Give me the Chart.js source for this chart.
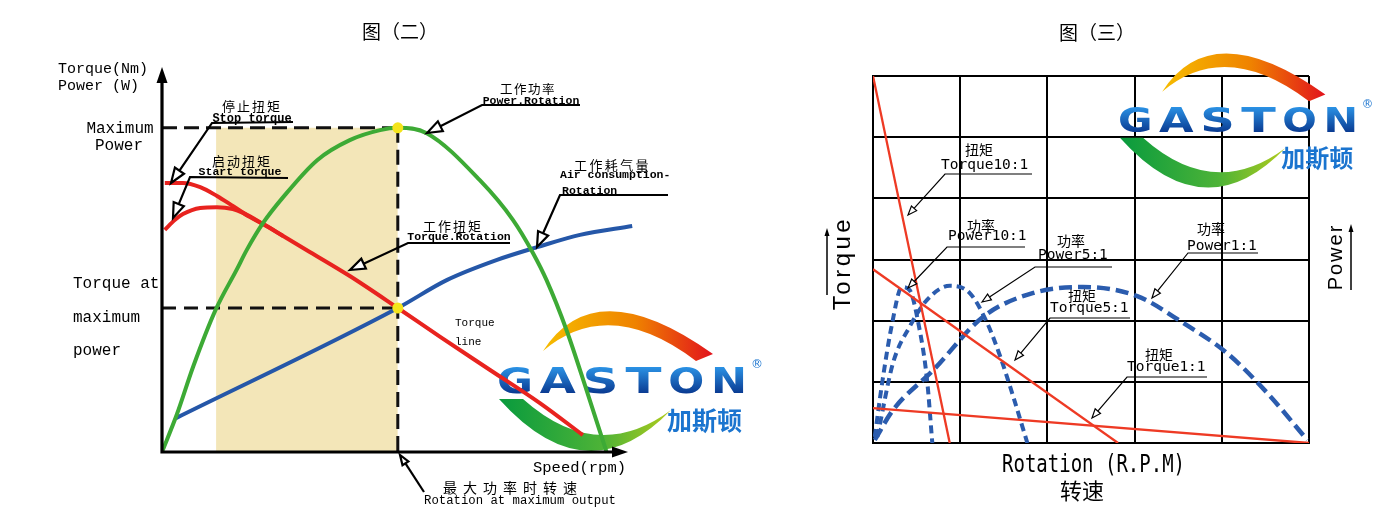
<!DOCTYPE html>
<html>
<head>
<meta charset="utf-8">
<title>图(二) 图(三)</title>
<script src="https://cdn.jsdelivr.net/npm/chart.js@4.4.1/dist/chart.umd.min.js"></script>
<style>
  html, body { margin: 0; padding: 0; background: #fff; }
  body { width: 1394px; height: 524px; position: relative; overflow: hidden; }
  #left { position: absolute; left: 0; top: 0; }
  #right { position: absolute; left: 820px; top: 0; }
</style>
</head>
<body>
<canvas id="left" width="810" height="524"></canvas>
<canvas id="right" width="574" height="524"></canvas>
<script>
// 图(二): speed, torque and power in percent of the axis length
const speedMaxPower = 50.6;
const maxPower = 84.2;
const torqueAtMaxPower = 37.4;
const shadeStart = 11.6;

const powerSpeed = [0, 3.2, 6.7, 11.5, 16, 18.2, 21.7, 26, 33.3, 40.3, 46.8, 50.6, 56.8, 68.2, 75.3, 79.6, 82.5, 86.8, 91.1, 95.4];
const powerValue = [0, 9.8, 22.2, 36.9, 47.3, 52.5, 59.5, 66.2, 75.8, 81, 83.6, 84.2, 82.8, 70.6, 60.3, 51.7, 44.7, 31.7, 16.1, 0];

const stopSpeed = [0.6, 4.5, 8.2, 11.8, 15.2, 18.9, 21.7, 26, 31.8, 40.3, 50.6, 59.7, 70.4, 81.1, 90.3];
const stopTorque = [69.9, 69.9, 68.8, 66.5, 63.9, 61, 59.2, 56.1, 51.9, 45.7, 37.4, 29.9, 21.3, 12.7, 4.4];

const startSpeed = [0.6, 2.8, 4.5, 8.2, 11.8, 15.2, 17.4, 21.7, 26];
const startTorque = [57.7, 60.3, 61.8, 63.4, 63.6, 63.1, 62.1, 59.2, 56.1];

const airSpeed = [3, 50.6, 61.2, 71.9, 80.5, 89.7, 100.9];
const airValue = [8.8, 37.4, 44.7, 49.9, 53.2, 56.4, 58.7];

// 图(三): rotation over 5 grid columns, torque / power over 6 grid rows
const gridCols = 5;
const gridRows = 6;
const torque10Rpm = [0, 0.88];
const torque10Val = [6, 0];
const torque5Rpm = [0, 2.81];
const torque5Val = [2.84, 0];
const torque1Rpm = [0, 5];
const torque1Val = [0.57, 0];
const power10Rpm = [0.02, 0.11, 0.22, 0.33, 0.42, 0.52, 0.62, 0.68];
const power10Val = [0.1, 1.03, 1.96, 2.55, 2.5, 1.96, 1.03, 0];
const power5Rpm = [0.05, 0.23, 0.42, 0.62, 0.88, 1.11, 1.31, 1.46, 1.61, 1.77];
const power5Val = [0.1, 1.31, 1.9, 2.34, 2.57, 2.45, 1.96, 1.41, 0.75, 0];
const power1Rpm = [0.02, 0.23, 0.69, 1.26, 1.83, 2.41, 3.03, 3.56, 4.06, 4.52, 4.98];
const power1Val = [0.05, 0.54, 1.19, 2.06, 2.45, 2.55, 2.4, 1.96, 1.47, 0.82, 0.05];

function pts(xs, ys) {
  return xs.map((x, i) => ({ x: x, y: ys[i] }));
}

function line(xs, ys, color, width, extra) {
  return Object.assign({
    data: pts(xs, ys),
    showLine: true,
    borderColor: color,
    borderWidth: width,
    pointRadius: 0,
    cubicInterpolationMode: 'monotone',
    fill: false
  }, extra || {});
}

function txt(ctx, s, x, y, font, align, spacing) {
  ctx.font = font;
  ctx.textAlign = align || 'left';
  ctx.textBaseline = 'middle';
  ctx.fillStyle = '#000';
  ctx.letterSpacing = spacing || '0px';
  ctx.fillText(s, x, y);
  ctx.letterSpacing = '0px';
}

// polyline whose last segment ends in an open arrow head
function leader(ctx, p, len, half, lw) {
  const n = p.length;
  const a = Math.atan2(p[n - 1][1] - p[n - 2][1], p[n - 1][0] - p[n - 2][0]);
  const bx = p[n - 1][0] - len * Math.cos(a);
  const by = p[n - 1][1] - len * Math.sin(a);
  ctx.lineWidth = lw;
  ctx.strokeStyle = '#000';
  ctx.setLineDash([]);
  ctx.beginPath();
  ctx.moveTo(p[0][0], p[0][1]);
  for (let i = 1; i < n - 1; i++) ctx.lineTo(p[i][0], p[i][1]);
  ctx.lineTo(bx, by);
  ctx.stroke();
  ctx.beginPath();
  ctx.moveTo(p[n - 1][0], p[n - 1][1]);
  ctx.lineTo(bx + half * Math.sin(a), by - half * Math.cos(a));
  ctx.lineTo(bx - half * Math.sin(a), by + half * Math.cos(a));
  ctx.closePath();
  ctx.fillStyle = '#fff';
  ctx.fill();
  ctx.stroke();
}

function upArrow(ctx, x, y1, y2) {
  ctx.lineWidth = 1.5;
  ctx.strokeStyle = '#000';
  ctx.fillStyle = '#000';
  ctx.beginPath();
  ctx.moveTo(x, y1);
  ctx.lineTo(x, y2 + 6);
  ctx.stroke();
  ctx.beginPath();
  ctx.moveTo(x, y2);
  ctx.lineTo(x - 2.5, y2 + 8);
  ctx.lineTo(x + 2.5, y2 + 8);
  ctx.closePath();
  ctx.fill();
}

function drawLogo(ctx, ox, oy, s) {
  ctx.save();
  ctx.translate(ox, oy);
  ctx.scale(s, s);
  let g = ctx.createLinearGradient(45, 0, 215, 0);
  g.addColorStop(0, '#f6bd00');
  g.addColorStop(0.55, '#ef8200');
  g.addColorStop(1, '#e2141c');
  ctx.fillStyle = g;
  ctx.beginPath();
  ctx.moveTo(46, -16);
  ctx.quadraticCurveTo(98, -97, 216, -13);
  ctx.lineTo(199, -6);
  ctx.quadraticCurveTo(112, -72, 46, -16);
  ctx.closePath();
  ctx.fill();

  g = ctx.createLinearGradient(0, 0, 175, 0);
  g.addColorStop(0, '#079a3e');
  g.addColorStop(0.6, '#4db337');
  g.addColorStop(1, '#b2cc1c');
  ctx.fillStyle = g;
  ctx.beginPath();
  ctx.moveTo(2, 32);
  ctx.quadraticCurveTo(90, 130, 174, 43);
  ctx.quadraticCurveTo(100, 98, 26, 32);
  ctx.closePath();
  ctx.fill();

  ctx.font = 'bold 34px "DejaVu Sans"';
  ctx.textBaseline = 'alphabetic';
  ctx.textAlign = 'left';
  const word = 'GASTON';
  for (let i = 0; i < word.length; i++) {
    const w = ctx.measureText(word[i]).width;
    ctx.save();
    ctx.translate(i * 42.8, 26);
    ctx.scale(36 / w, 1.05);
    const gb = ctx.createLinearGradient(0, -25, 0, 0);
    gb.addColorStop(0, '#2b93e6');
    gb.addColorStop(1, '#0a3b92');
    ctx.fillStyle = gb;
    ctx.fillText(word[i], 0, 0);
    ctx.restore();
  }
  ctx.fillStyle = '#1a74cf';
  ctx.textBaseline = 'middle';
  ctx.font = 'bold 25px "Noto Sans CJK SC"';
  ctx.fillText('加斯顿', 170, 53);
  ctx.font = '12px "DejaVu Sans"';
  ctx.fillText('®', 254, -2);
  ctx.restore();
}

const MONO = '"Liberation Mono", monospace';
const CJK = '"Noto Sans CJK SC", sans-serif';

const leftDecor = {
  id: 'leftDecor',
  beforeDatasetsDraw(chart) {
    drawLogo(chart.ctx, 497, 367, 1);
  },
  afterDatasetsDraw(chart) {
    const ctx = chart.ctx;
    const xs = chart.scales.x;
    const ys = chart.scales.y;
    const x0 = xs.getPixelForValue(0);
    const y0 = ys.getPixelForValue(0);
    const xEnd = xs.getPixelForValue(100);
    const yTop = ys.getPixelForValue(100);
    ctx.save();
    // axes with arrows
    ctx.setLineDash([]);
    ctx.strokeStyle = '#000';
    ctx.fillStyle = '#000';
    ctx.lineWidth = 3.2;
    ctx.lineJoin = 'miter';
    ctx.beginPath();
    ctx.moveTo(x0, yTop + 14);
    ctx.lineTo(x0, y0);
    ctx.lineTo(xEnd - 14, y0);
    ctx.stroke();
    ctx.beginPath();
    ctx.moveTo(x0, yTop);
    ctx.lineTo(x0 - 5.5, yTop + 16);
    ctx.lineTo(x0 + 5.5, yTop + 16);
    ctx.closePath();
    ctx.fill();
    ctx.beginPath();
    ctx.moveTo(xEnd, y0);
    ctx.lineTo(xEnd - 16, y0 - 5.5);
    ctx.lineTo(xEnd - 16, y0 + 5.5);
    ctx.closePath();
    ctx.fill();

    txt(ctx, '图（二）', 400, 32, '19px ' + CJK, 'center');
    txt(ctx, 'Torque(Nm)', 58, 69, '15px ' + MONO);
    txt(ctx, 'Power (W)', 58, 86, '15px ' + MONO);
    txt(ctx, 'Maximum', 120, 129, '16px ' + MONO, 'center');
    txt(ctx, 'Power', 119, 146, '16px ' + MONO, 'center');
    txt(ctx, 'Torque at', 73, 284, '16px ' + MONO);
    txt(ctx, 'maximum', 73, 318, '16px ' + MONO);
    txt(ctx, 'power', 73, 351, '16px ' + MONO);

    txt(ctx, '停止扭矩', 222, 106, '13px ' + CJK, 'left', '2px');
    txt(ctx, 'Stop torque', 252, 118.5, 'bold 12px ' + MONO, 'center');
    txt(ctx, '启动扭矩', 212, 161, '13px ' + CJK, 'left', '2px');
    txt(ctx, 'Start torque', 240, 172, 'bold 11.5px ' + MONO, 'center');
    txt(ctx, '工作功率', 500, 89, '12.5px ' + CJK, 'left', '1.5px');
    txt(ctx, 'Power.Rotation', 531, 101, 'bold 11.5px ' + MONO, 'center');
    txt(ctx, '工作耗气量', 574, 165, '13px ' + CJK, 'left', '2.4px');
    txt(ctx, 'Air consumption-', 560, 175.5, 'bold 11.5px ' + MONO);
    txt(ctx, 'Rotation', 562, 191, 'bold 11.5px ' + MONO);
    txt(ctx, '工作扭矩', 423, 226.5, '13px ' + CJK, 'left', '2px');
    txt(ctx, 'Torque.Rotation', 459, 237, 'bold 11.5px ' + MONO, 'center');
    txt(ctx, 'Torque', 455, 323, '11px ' + MONO);
    txt(ctx, 'line', 455, 342, '11px ' + MONO);
    txt(ctx, 'Speed(rpm)', 533, 468, '15.5px ' + MONO);
    txt(ctx, '最大功率时转速', 443, 487.5, '14px ' + CJK, 'left', '6px');
    txt(ctx, 'Rotation at maximum output', 520, 501, '12.3px ' + MONO, 'center');

    leader(ctx, [[293, 122], [212, 123], [171, 183]], 15, 5.5, 2.2);
    leader(ctx, [[288, 178], [190, 177], [173, 218]], 15, 5.5, 2.2);
    leader(ctx, [[580, 105], [482, 105], [427, 133]], 15, 5.5, 2.2);
    leader(ctx, [[668, 195], [560, 195], [537, 247]], 15, 5.5, 2.2);
    leader(ctx, [[510, 243], [408, 243], [350, 270]], 15, 5.5, 2.2);
    leader(ctx, [[424, 492], [400, 455]], 10, 3.5, 2.2);
    ctx.restore();
  }
};

const rightDecor = {
  id: 'rightDecor',
  beforeDatasetsDraw(chart) {
    const ctx = chart.ctx;
    ctx.save();
    ctx.translate(-820, 0);
    drawLogo(ctx, 1118, 107, 0.96);
    ctx.restore();
  },
  afterDatasetsDraw(chart) {
    const ctx = chart.ctx;
    const SM = '14.5px "DejaVu Sans Mono", monospace';
    const CN = '14px ' + CJK;
    ctx.save();
    ctx.translate(-820, 0);
    txt(ctx, '图（三）', 1097, 33, '19px ' + CJK, 'center');

    txt(ctx, '扭矩', 965, 150, CN);
    txt(ctx, 'Torque10:1', 941, 165, SM);
    txt(ctx, '功率', 967, 226, CN);
    txt(ctx, 'Power10:1', 948, 236, SM);
    txt(ctx, '功率', 1057, 241, CN);
    txt(ctx, 'Power5:1', 1038, 255, SM);
    txt(ctx, '功率', 1197, 229, CN);
    txt(ctx, 'Power1:1', 1187, 246, SM);
    txt(ctx, '扭矩', 1068, 296, CN);
    txt(ctx, 'Torque5:1', 1050, 308, SM);
    txt(ctx, '扭矩', 1145, 355, CN);
    txt(ctx, 'Torque1:1', 1127, 367, SM);

    leader(ctx, [[1032, 174], [945, 174], [908, 215]], 9, 3.5, 1.2);
    leader(ctx, [[1025, 247], [947, 247], [908, 288]], 9, 3.5, 1.2);
    leader(ctx, [[1112, 267], [1035, 267], [982, 302]], 9, 3.5, 1.2);
    leader(ctx, [[1258, 253], [1188, 253], [1152, 298]], 9, 3.5, 1.2);
    leader(ctx, [[1130, 318], [1050, 318], [1015, 360]], 9, 3.5, 1.2);
    leader(ctx, [[1207, 377], [1127, 377], [1092, 418]], 9, 3.5, 1.2);

    ctx.save();
    ctx.translate(1002, 466);
    ctx.scale(1, 1.3);
    txt(ctx, 'Rotation (R.P.M)', 0, 0, '19px "DejaVu Sans Mono", monospace');
    ctx.restore();
    txt(ctx, '转速', 1082, 491, '22px ' + CJK, 'center');

    ctx.save();
    ctx.translate(843, 263);
    ctx.rotate(-Math.PI / 2);
    txt(ctx, 'Torque', 0, 0, '24px "Liberation Sans", sans-serif', 'center', '3.5px');
    ctx.restore();
    upArrow(ctx, 827, 295, 228);

    ctx.save();
    ctx.translate(1336, 257);
    ctx.rotate(-Math.PI / 2);
    txt(ctx, 'Power', 0, 0, '20px "Liberation Sans", sans-serif', 'center', '2px');
    ctx.restore();
    upArrow(ctx, 1351, 290, 224);
    ctx.restore();
  }
};

const RED = '#e8231f';
const GREEN = '#3daa35';
const BLUE = '#2557a8';
const DASH = '#111';

new Chart(document.getElementById('left'), {
  type: 'scatter',
  data: {
    datasets: [
      {
        data: pts([speedMaxPower, speedMaxPower], [maxPower, torqueAtMaxPower]),
        pointRadius: 5.5,
        pointBackgroundColor: '#f4e41c',
        pointBorderWidth: 0,
        clip: false,
        order: 0
      },
      line(powerSpeed, powerValue, GREEN, 4, { order: 1 }),
      line(stopSpeed, stopTorque, RED, 4, { order: 2 }),
      line(startSpeed, startTorque, RED, 4, { order: 2 }),
      line(airSpeed, airValue, BLUE, 4, { order: 3, clip: false }),
      line([0, speedMaxPower], [maxPower, maxPower], DASH, 3, { borderDash: [15, 7], order: 4 }),
      line([0, speedMaxPower], [torqueAtMaxPower, torqueAtMaxPower], DASH, 3, { borderDash: [14, 8], order: 4 }),
      line([speedMaxPower, speedMaxPower], [maxPower, 0], DASH, 3, { borderDash: [15, 7], order: 4 }),
      line([shadeStart, speedMaxPower], [maxPower, maxPower], 'rgba(0,0,0,0)', 0, {
        fill: 'origin',
        backgroundColor: '#f3e6b8',
        order: 10
      })
    ]
  },
  options: {
    responsive: false,
    animation: false,
    layout: { padding: { left: 162, right: 182, top: 67, bottom: 72 } },
    scales: {
      x: { type: 'linear', min: 0, max: 100, display: false },
      y: { type: 'linear', min: 0, max: 100, display: false }
    },
    plugins: { legend: { display: false }, tooltip: { enabled: false } }
  },
  plugins: [leftDecor]
});

const RRED = '#ee3a24';
const RBLUE = '#2b5cae';

new Chart(document.getElementById('right'), {
  type: 'scatter',
  data: {
    datasets: [
      line(torque10Rpm, torque10Val, RRED, 2.3),
      line(torque5Rpm, torque5Val, RRED, 2.3),
      line(torque1Rpm, torque1Val, RRED, 2.3),
      line(power10Rpm, power10Val, RBLUE, 4, { borderDash: [8, 5] }),
      line(power5Rpm, power5Val, RBLUE, 4, { borderDash: [8, 5] }),
      line(power1Rpm, power1Val, RBLUE, 4.5, { borderDash: [13, 6] })
    ]
  },
  options: {
    responsive: false,
    animation: false,
    layout: { padding: { left: 53, right: 85, top: 76, bottom: 81 } },
    scales: {
      x: {
        type: 'linear', min: 0, max: gridCols,
        ticks: { display: false, stepSize: 1 },
        grid: { color: '#000', lineWidth: 2, drawTicks: false },
        border: { color: '#000', width: 2 }
      },
      y: {
        type: 'linear', min: 0, max: gridRows,
        ticks: { display: false, stepSize: 1 },
        grid: { color: '#000', lineWidth: 2, drawTicks: false },
        border: { color: '#000', width: 2 }
      }
    },
    plugins: { legend: { display: false }, tooltip: { enabled: false } }
  },
  plugins: [rightDecor]
});
</script>
</body>
</html>
